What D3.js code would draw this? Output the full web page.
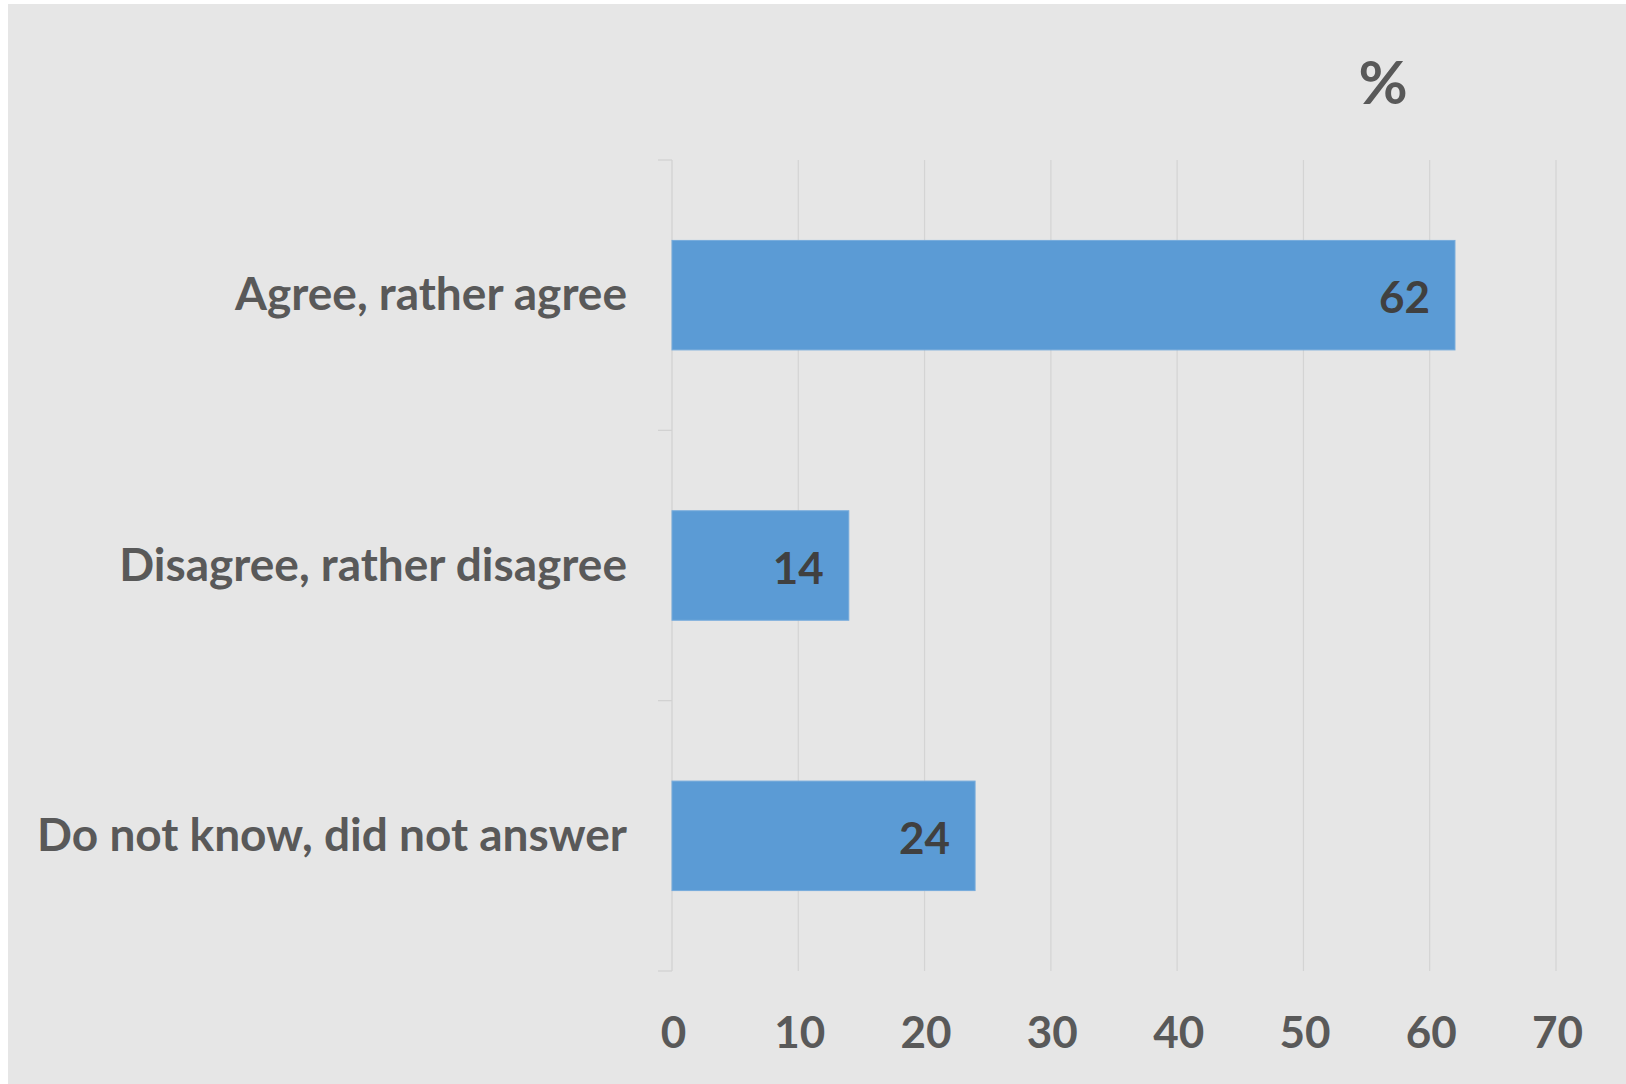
<!DOCTYPE html>
<html>
<head>
<meta charset="utf-8">
<script src="https://cdn.jsdelivr.net/npm/d3@7"></script>
<style>
  html, body { margin: 0; padding: 0; background: #ffffff; }
  svg { display: block; }
  text { font-family: Lato, "Open Sans", sans-serif; font-weight: 700; }
</style>
</head>
<body>
<svg id="chart" width="1626" height="1084"></svg>
<script>
const categories = ["Agree, rather agree", "Disagree, rather disagree", "Do not know, did not answer"];
const values = [62, 14, 24];
const xTicks = [0, 10, 20, 30, 40, 50, 60, 70];
const unitLabel = "%";

const W = 1626, H = 1084;
const svg = d3.select("#chart");

svg.append("rect")
  .attr("x", 8).attr("y", 4)
  .attr("width", W - 8).attr("height", H - 4)
  .attr("fill", "#e6e6e6");

const plot = { left: 672, right: 1556, top: 160, bottom: 971 };

const x = d3.scaleLinear().domain([0, 70]).range([plot.left, plot.right]);
const y = d3.scaleBand().domain(categories)
  .range([plot.top, plot.bottom])
  .paddingInner(0.595).paddingOuter(0.2975);

// gridlines
svg.append("g").selectAll("line")
  .data(xTicks.filter(d => d !== 0))
  .join("line")
  .attr("x1", d => x(d)).attr("x2", d => x(d))
  .attr("y1", plot.top).attr("y2", plot.bottom)
  .attr("stroke", "#d4d4d4").attr("stroke-width", 1.2);

// vertical category axis line + ticks
svg.append("line")
  .attr("x1", x(0)).attr("x2", x(0))
  .attr("y1", plot.top).attr("y2", plot.bottom)
  .attr("stroke", "#d0d0d0").attr("stroke-width", 1.2);

const boundaries = d3.range(categories.length + 1).map(i => y.range()[0] + i * y.step());
svg.append("g").selectAll("line")
  .data(boundaries)
  .join("line")
  .attr("x1", x(0) - 14).attr("x2", x(0))
  .attr("y1", d => d).attr("y2", d => d)
  .attr("stroke", "#d0d0d0").attr("stroke-width", 1.2);

// bars
svg.append("g").selectAll("rect")
  .data(categories.map((c, i) => ({ c, v: values[i] })))
  .join("rect")
  .attr("x", x(0))
  .attr("y", d => y(d.c))
  .attr("width", d => x(d.v) - x(0))
  .attr("height", y.bandwidth())
  .attr("fill", "#5b9bd5")
  .attr("stroke", "#76abdc").attr("stroke-width", 1);

// data labels
svg.append("g").selectAll("text")
  .data(categories.map((c, i) => ({ c, v: values[i] })))
  .join("text")
  .attr("x", d => x(d.v) - 25)
  .attr("y", d => y(d.c) + y.bandwidth() / 2)
  .attr("dy", "0.41em")
  .attr("text-anchor", "end")
  .attr("font-size", 44)
  .attr("fill", "#404040")
  .text(d => d.v);

// x axis tick labels
const xAxis = d3.axisBottom(x).tickValues(xTicks).tickSize(0).tickPadding(46).tickFormat(d3.format("d"));
const gx = svg.append("g").attr("transform", `translate(1,${plot.bottom})`).call(xAxis);
gx.select(".domain").remove();
gx.selectAll("text")
  .attr("font-size", 44)
  .attr("font-family", "Lato, sans-serif")
  .attr("font-weight", 700)
  .attr("fill", "#595959");

// y axis category labels
const yAxis = d3.axisLeft(y).tickSize(0).tickPadding(45);
const gy = svg.append("g").attr("transform", `translate(${plot.left},0)`).call(yAxis);
gy.select(".domain").remove();
gy.selectAll("text")
  .attr("font-size", 46)
  .attr("dy", "0.33em")
  .attr("font-family", "Lato, sans-serif")
  .attr("font-weight", 700)
  .attr("fill", "#595959");

// unit label
svg.append("text")
  .attr("x", 1383).attr("y", 104)
  .attr("text-anchor", "middle")
  .attr("font-size", 60)
  .attr("fill", "#595959")
  .text(unitLabel);
</script>
</body>
</html>
